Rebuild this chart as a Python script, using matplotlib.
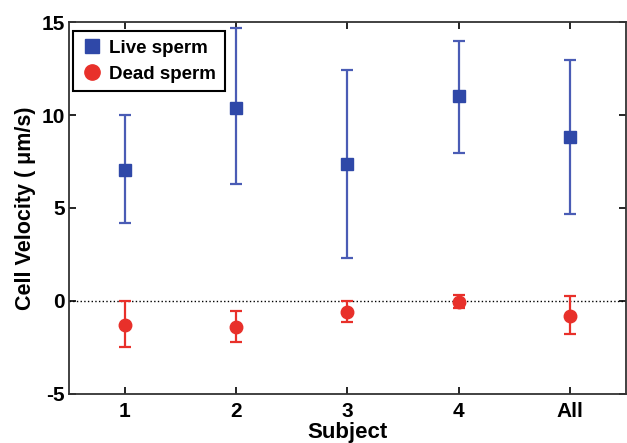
import matplotlib
matplotlib.use("Agg")
import matplotlib.pyplot as plt
import numpy as np
from matplotlib.lines import Line2D

categories = ["1", "2", "3", "4", "All"]
live_mean = [7.05, 10.4, 7.35, 11.0, 8.8]
live_low = [4.2, 6.3, 2.3, 7.95, 4.7]
live_high = [10.0, 14.7, 12.4, 14.0, 12.95]
dead_mean = [-1.3, -1.4, -0.6, -0.05, -0.8]
dead_low = [-2.5, -2.2, -1.15, -0.4, -1.8]
dead_high = [0.0, -0.55, 0.0, 0.3, 0.25]

plt.rcParams['font.family'] = ['Liberation Sans', 'DejaVu Sans']
plt.rcParams['font.weight'] = 'bold'
plt.rcParams['axes.unicode_minus'] = False

fig = plt.figure(figsize=(6.27, 4.43), dpi=100)
ax = fig.add_axes([0.110, 0.111, 0.888, 0.839])

x = np.arange(1, len(categories) + 1)
lm = np.array(live_mean); dm = np.array(dead_mean)
lerr = [lm - np.array(live_low), np.array(live_high) - lm]
derr = [dm - np.array(dead_low), np.array(dead_high) - dm]

ax.axhline(0, color='black', linestyle=':', linewidth=1.0, zorder=1)
ax.errorbar(x, lm, yerr=lerr, fmt='s', color='#2f48a8', ecolor='#4a5cb5',
            markersize=8, elinewidth=1.6, capsize=4, capthick=1.6,
            zorder=3)
ax.errorbar(x, dm, yerr=derr, fmt='o', color='#e8302a', ecolor='#e8302a',
            markersize=9, elinewidth=1.6, capsize=4, capthick=1.6,
            zorder=3)

ax.set_xlim(0.5, 5.5)
ax.set_ylim(-5, 15)
ax.set_xticks(x)
ax.set_xticklabels(categories)
ax.set_yticks([-5, 0, 5, 10, 15])
ax.tick_params(direction='in', top=True, right=True, length=5, width=1.2,
               labelsize=15, pad=3)
ax.tick_params(axis='x', pad=6)
for lab in ax.get_xticklabels() + ax.get_yticklabels():
    lab.set_fontweight('bold')
for s in ax.spines.values():
    s.set_linewidth(1.3)
    s.set_color('#333333')

ax.set_xlabel('Subject', fontsize=16, fontweight='bold')
ax.xaxis.set_label_coords(0.5, -0.077)
ax.set_ylabel('Cell Velocity ( μm/s)', fontsize=15.5, fontweight='bold', labelpad=4)

h1 = Line2D([], [], marker='s', color='#2f48a8', linestyle='none', markersize=10)
h2 = Line2D([], [], marker='o', color='#e8302a', linestyle='none', markersize=11)
leg = ax.legend([h1, h2], ['Live sperm', 'Dead sperm'], loc='upper left',
                fancybox=False, edgecolor='black', framealpha=1,
                prop={'size': 13.5, 'weight': 'bold'}, handletextpad=0.3,
                handlelength=1.2, borderpad=0.45, labelspacing=0.45,
                bbox_to_anchor=(0.0, 0.985), borderaxespad=0.2)
leg.get_frame().set_linewidth(1.5)

fig.savefig('out.png', dpi=100)
